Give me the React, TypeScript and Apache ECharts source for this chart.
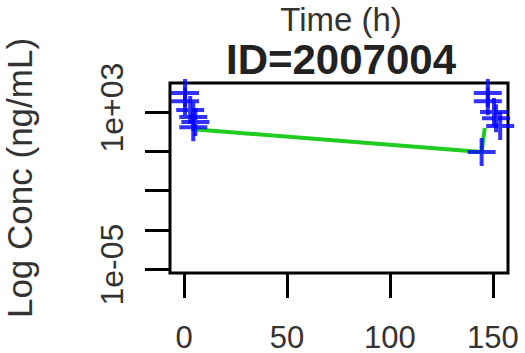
import React, { useEffect, useRef } from "react";
import * as echarts from "echarts";

// Observed concentrations (ng/mL) vs time (h)
const obsTime = [0.5, 0.5, 3, 4.5, 5.5, 4.5, 147.5, 147.5, 150.5, 151.5, 153.5, 144.5];
const obsConc = [9300, 3600, 1260, 560, 310, 170, 9300, 3600, 1000, 490, 195, 9.2];

// Green connecting line
const lineTime = [6, 144.5, 146];
const lineConc = [130, 9.2, 155];

// Axis ticks
const xTicks = [0, 50, 100, 150];
const yTickExp = [3, 1, -1, -3, -5];
const yLabelExp = [3, -5];

const FONT = "Liberation Sans, Arial, sans-serif";
const CROSS = "path://M0 12h28v4h-28z M12 0h4v28h-4z";

export default function App() {
  const ref = useRef<HTMLDivElement>(null);
  useEffect(() => {
    if (!ref.current) return;
    const chart = echarts.init(ref.current, null, { renderer: "svg" });
    const fmtExp = (v: number) => {
      const e = Math.round(v);
      return "1e" + (e < 0 ? "-" : "+") + String(Math.abs(e)).padStart(2, "0");
    };
    chart.setOption({
      animation: false,
      backgroundColor: "#fff",
      title: [
        {
          text: "Time (h)",
          left: 336,
          textAlign: "center",
          top: 0,
          textStyle: { fontFamily: FONT, fontSize: 33, fontWeight: "normal", color: "#333", lineHeight: 29 },
        },
        {
          text: "ID=2007004",
          left: 336,
          textAlign: "center",
          top: 35,
          textStyle: { fontFamily: FONT, fontSize: 42, fontWeight: "bold", color: "#222", lineHeight: 38 },
        },
      ],
      grid: {
        left: 170,
        top: 83,
        width: 338,
        height: 190,
        show: true,
        borderColor: "#000",
        borderWidth: 3,
        backgroundColor: "#fff",
        containLabel: false,
        outerBoundsMode: "none",
      },
      xAxis: {
        type: "value",
        min: -6.8,
        max: 157.3,
        axisLine: { show: false, onZero: false },
        splitLine: { show: false },
        axisTick: {
          show: true,
          length: 25,
          lineStyle: { width: 3, color: "#000" },
          customValues: xTicks,
        },
        axisLabel: {
          customValues: xTicks,
          margin: 50,
          fontSize: 31,
          lineHeight: 28,
          fontFamily: FONT,
          color: "#333",
        },
      },
      yAxis: {
        type: "value",
        min: -5.2,
        max: 4.48,
        axisLine: { show: false, onZero: false },
        splitLine: { show: false },
        axisTick: {
          show: true,
          length: 25,
          lineStyle: { width: 3, color: "#000" },
          customValues: yTickExp,
        },
        axisLabel: {
          customValues: yLabelExp,
          rotate: 90,
          margin: 43,
          fontSize: 32,
          lineHeight: 30,
          padding: [0, 0, 0, 9],
          fontFamily: FONT,
          color: "#333",
          formatter: fmtExp,
        },
        name: "Log Conc (ng/mL)",
        nameLocation: "middle",
        nameRotate: 90,
        nameGap: 134,
        nameTextStyle: { fontFamily: FONT, fontSize: 35, lineHeight: 34, color: "#333" },
      },
      series: [
        {
          type: "line",
          data: lineTime.map((t, i) => [t, Math.log10(lineConc[i])]),
          symbol: "none",
          lineStyle: { color: "#1fcc1f", width: 4 },
          z: 2,
        },
        {
          type: "scatter",
          data: obsTime.map((t, i) => [t, Math.log10(obsConc[i])]),
          symbol: CROSS,
          symbolSize: 28,
          itemStyle: { color: "#0000ff" },
          z: 3,
        },
      ],
    });
    return () => chart.dispose();
  }, []);
  return (
    <div
      ref={ref}
      style={{ position: "fixed", left: 0, top: 0, width: 525, height: 353, background: "#fff" }}
    />
  );
}
